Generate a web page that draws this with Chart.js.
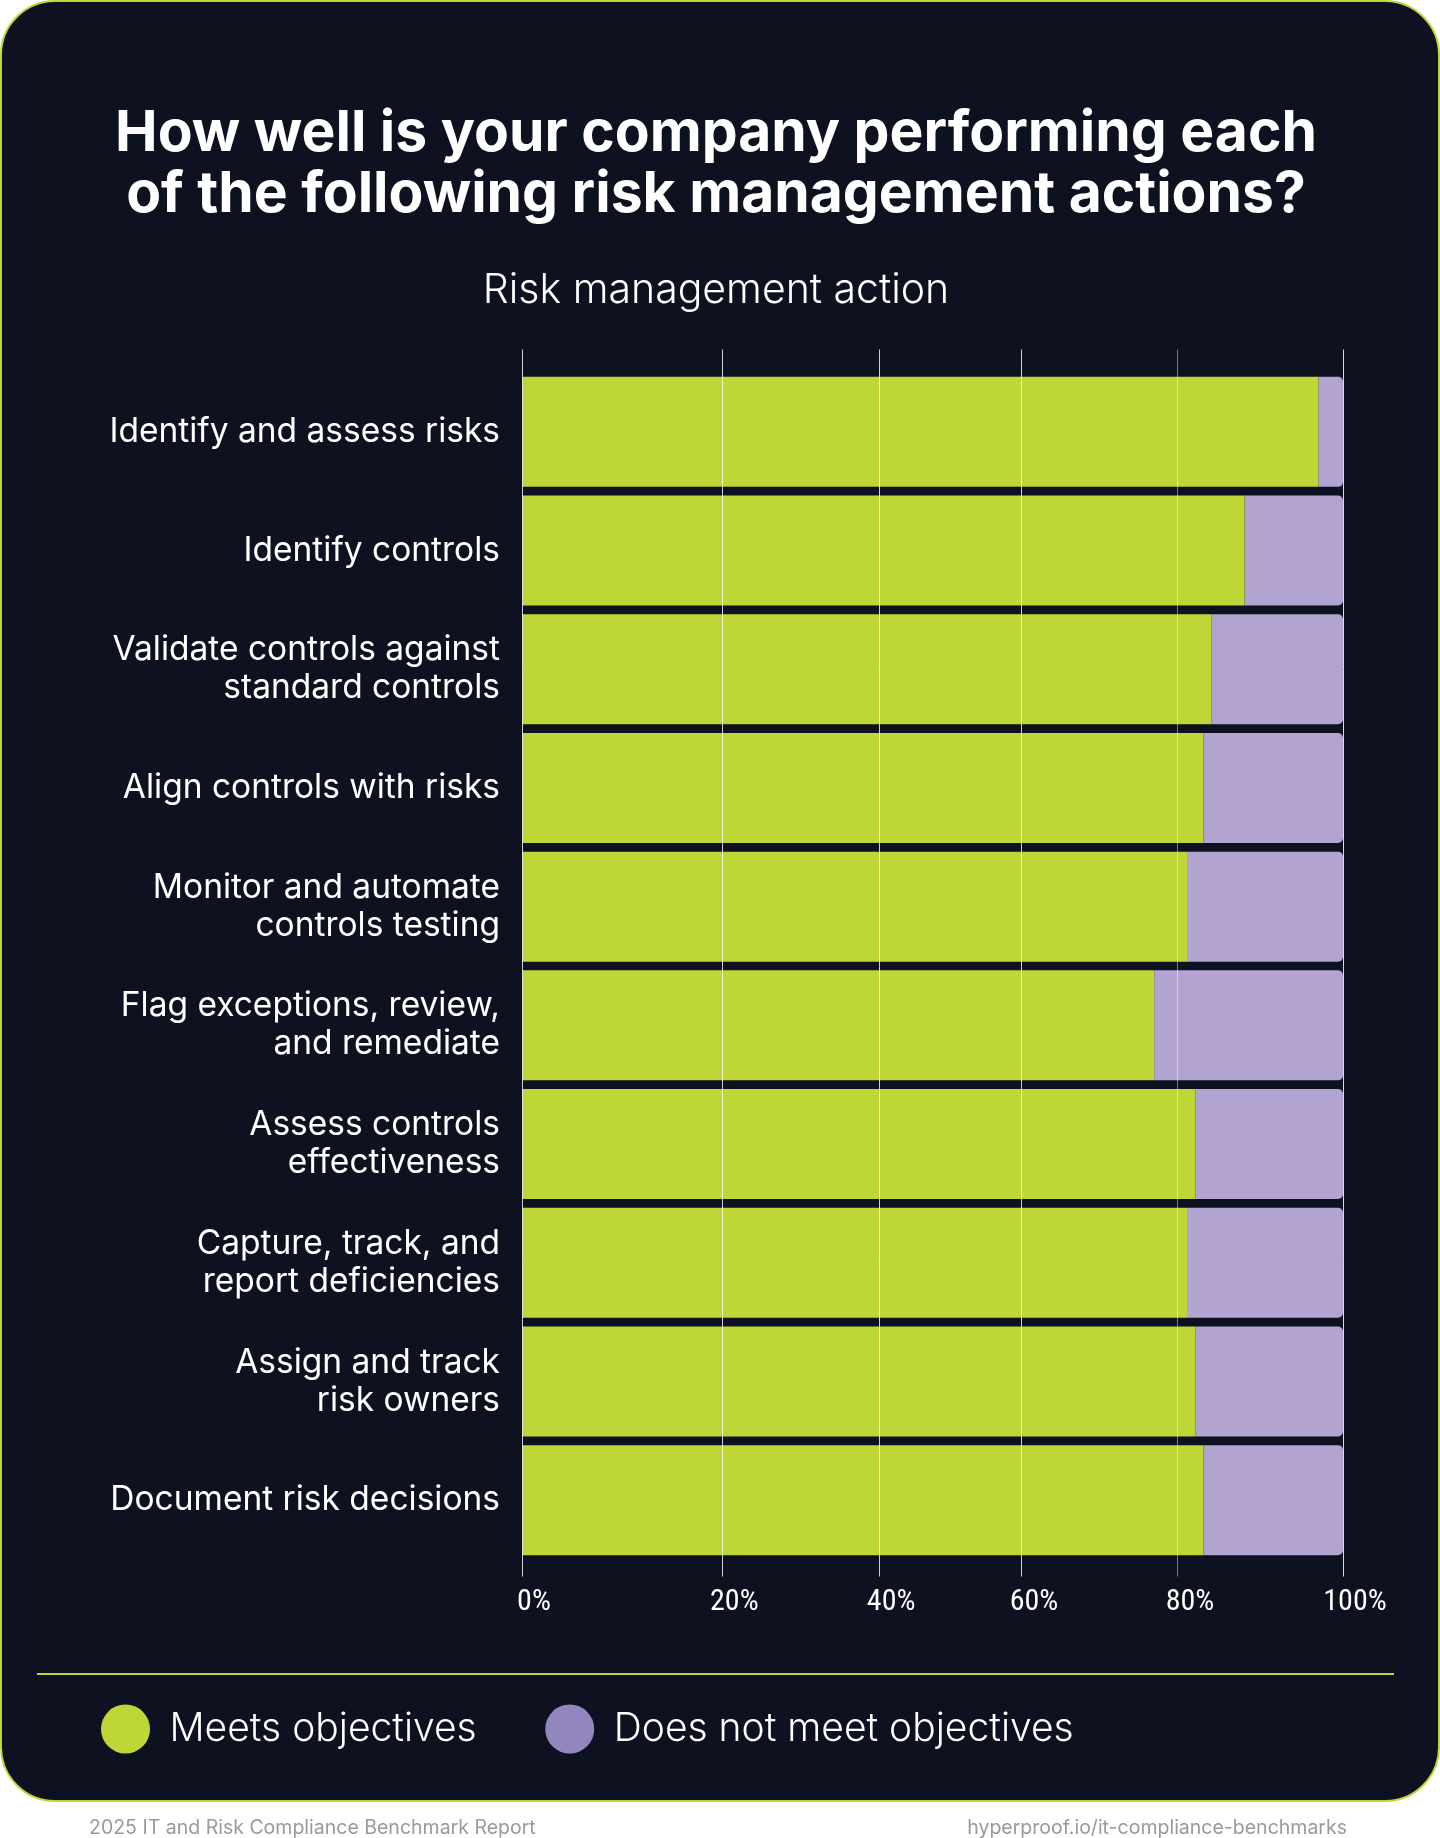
<!DOCTYPE html>
<html>
<head>
<meta charset="utf-8">
<script src="https://cdn.jsdelivr.net/npm/chart.js@4.4.1/dist/chart.umd.min.js"></script>
<style>
  html, body { margin: 0; padding: 0; background: #fff; }
  #page { position: relative; width: 1440px; height: 1838px; overflow: hidden; }
  #card { position: absolute; left: 0; top: 0; width: 1440px; height: 1802px; box-sizing: border-box;
          background: #0e1120; border: 2px solid #bed736; border-radius: 55px; }
  #rule { position: absolute; left: 37px; top: 1673px; width: 1357px; height: 2px; background: #bed736; }
  #chart { position: absolute; left: 0; top: 0; }
  .foot { position: absolute; top: 1815px; font: 19.5px Inter, sans-serif; color: #9a9a9a; white-space: nowrap; }
</style>
</head>
<body>
<div id="page">
  <div id="card"></div>
  <div id="rule"></div>
  <canvas id="chart" width="1440" height="1838"></canvas>
  <div class="foot" style="left:89px">2025 IT and Risk Compliance Benchmark Report</div>
  <div class="foot" style="right:93px">hyperproof.io/it-compliance-benchmarks</div>
</div>
<script>
const titleLines = ['How well is your company performing each', 'of the following risk management actions?'];
const axisTitle = 'Risk management action';

const labels = [
  'Identify and assess risks',
  'Identify controls',
  ['Validate controls against', 'standard controls'],
  'Align controls with risks',
  ['Monitor and automate', 'controls testing'],
  ['Flag exceptions, review,', 'and remediate'],
  ['Assess controls', 'effectiveness'],
  ['Capture, track, and', 'report deficiencies'],
  ['Assign and track', 'risk owners'],
  'Document risk decisions'
];
const seriesNames = ['Meets objectives', 'Does not meet objectives'];
const meets    = [97, 88, 84, 83, 81, 77, 82, 81, 82, 83];
const notMeets = [3, 12, 16, 17, 19, 23, 18, 19, 18, 17];

// gridlines sit where the original drew them (not evenly spaced)
const tickValues = [0, 24.4, 43.5, 60.9, 79.9, 100];
const tickLabels = ['0%', '20%', '40%', '60%', '80%', '100%'];

const GREEN = '#bed736';
const PURPLE = '#b2a3d1';
const legendColors = [GREEN, '#9385bd'];
const gridColors = ['rgba(255,255,255,0.8)', 'rgba(255,255,255,0.8)', 'rgba(255,255,255,0.8)',
                    'rgba(255,255,255,0.8)', 'rgba(255,255,255,0.45)', 'rgba(255,255,255,0.85)'];

const setTicks = scale => { scale.ticks = tickValues.map(v => ({ value: v })); };

new Chart(document.getElementById('chart'), {
  type: 'bar',
  data: {
    labels: labels,
    datasets: [
      { label: seriesNames[0], data: meets, backgroundColor: GREEN },
      { label: seriesNames[1], data: notMeets, backgroundColor: PURPLE,
        borderRadius: { topRight: 5, bottomRight: 5 } }
    ]
  },
  options: {
    indexAxis: 'y',
    responsive: false,
    animation: false,
    datasets: { bar: { categoryPercentage: 1, barPercentage: 0.927 } },
    layout: { padding: { top: 0, left: 32.5, right: 40.5, bottom: 74.5 } },
    scales: {
      x: {
        type: 'linear', position: 'bottom', stacked: true, min: 0, max: 100,
        afterBuildTicks: setTicks,
        afterFit: s => { s.height = 76.5; },
        grid: { color: gridColors, lineWidth: 1, tickLength: 17, z: 1 },
        border: { display: false },
        ticks: {
          autoSkip: false, maxRotation: 0, padding: 7.5, labelOffset: 12,
          color: '#fff', font: { family: '"Roboto Condensed", Roboto', size: 30 },
          callback: (v, i) => tickLabels[i]
        }
      },
      x2: {
        type: 'linear', position: 'top', min: 0, max: 100,
        afterBuildTicks: setTicks,
        grid: { drawOnChartArea: false, color: gridColors, tickLength: 23 },
        border: { display: false },
        ticks: { display: false }
      },
      y: {
        stacked: true,
        afterFit: s => { s.width = 489.5; },
        grid: { display: false, drawTicks: false },
        border: { display: false },
        ticks: { color: '#fff', padding: 22, font: { family: 'Inter', size: 33.5, lineHeight: 1.134 } }
      },
      // empty right-hand spacer so the titles centre on the card
      y2: {
        type: 'linear', position: 'right', min: 0, max: 1,
        afterFit: s => { s.width = 56.5; },
        grid: { display: false, drawTicks: false },
        border: { display: false },
        ticks: { display: false }
      }
    },
    plugins: {
      tooltip: { enabled: false },
      title: {
        display: true, text: titleLines, color: '#fff',
        font: { family: 'Inter', size: 57, weight: '700', lineHeight: '61px' },
        padding: { top: 103.5, bottom: 0 }
      },
      subtitle: {
        display: true, text: axisTitle, color: '#fff',
        font: { family: 'Inter', size: 41, weight: '300', lineHeight: '44px' },
        padding: { top: 43, bottom: 37 }
      },
      legend: {
        position: 'bottom', align: 'start',
        labels: {
          color: '#fff', font: { family: 'Inter', size: 39, weight: '300' },
          boxWidth: 49, boxHeight: 49, padding: 68.5,
          generateLabels: chart => chart.data.datasets.map((ds, i) => ({
            text: ds.label, fillStyle: legendColors[i], strokeStyle: legendColors[i],
            lineWidth: 0, borderRadius: 24.5, datasetIndex: i, hidden: false, fontColor: '#fff'
          }))
        }
      }
    }
  }
});
</script>
</body>
</html>
